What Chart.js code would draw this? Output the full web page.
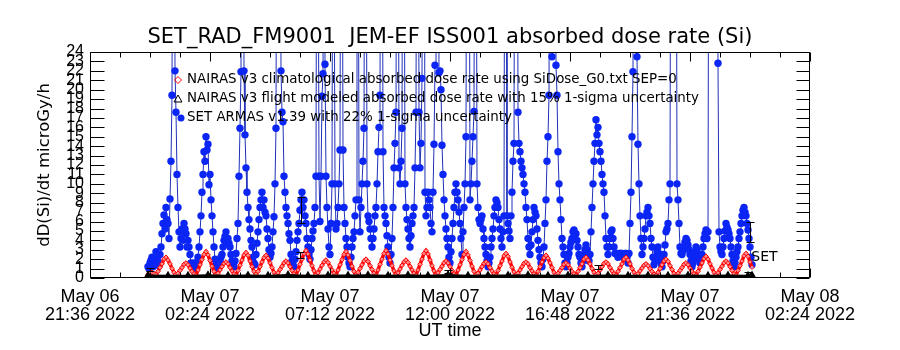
<!DOCTYPE html>
<html><head><meta charset="utf-8">
<script src="https://cdn.jsdelivr.net/npm/chart.js@4.4.1/dist/chart.umd.min.js"></script>
<style>html,body{margin:0;padding:0;background:#fff;}canvas{display:block;}</style>
</head><body>
<canvas id="c" width="900" height="350"></canvas>
<script>
// ---------- texts ----------
const titleText = 'SET_RAD_FM9001  JEM-EF ISS001 absorbed dose rate (Si)';
const yAxisTitle = 'dD(Si)/dt microGy/h';
const xAxisTitle = 'UT time';
const legendLabels = [
  'NAIRAS v3 climatological absorbed dose rate using SiDose_G0.txt SEP=0',
  'NAIRAS v3 flight modeled absorbed dose rate with 15% 1-sigma uncertainty',
  'SET ARMAS v1.39 with 22% 1-sigma uncertainty'
];
const setLabel = 'SET';
const setLabelHour = 26.45, setLabelValue = 2.2;

// ---------- axes (x in hours after May 06 21:36 UT) ----------
const xTickHours = [0, 4.8, 9.6, 14.4, 19.2, 24, 28.8];
const xTickLabels = [
  ['May 06', '21:36 2022'], ['May 07', '02:24 2022'], ['May 07', '07:12 2022'],
  ['May 07', '12:00 2022'], ['May 07', '16:48 2022'], ['May 07', '21:36 2022'],
  ['May 08', '02:24 2022']
];
const xMinorTickHours = [0,1.2,2.4,3.6,4.8,6,7.2,8.4,9.6,10.8,12,13.2,14.4,15.6,16.8,18,19.2,20.4,21.6,22.8,24,25.2,26.4,27.6,28.8];
const yTickValues = [0,1,2,3,4,5,6,7,8,9,10,11,12,13,14,15,16,17,18,19,20,21,22,23,24];
const yTickLabels = ['0','1','2','3','4','5','6','7','8','9','10','11','12','13','14','15','16','17','18','19','20','21','22','23','24'];

// ---------- SET ARMAS (one value every armasStepHour from armasStartHour) ----------
const armasStartHour = 2.32;
const armasStepHour = 0.04;
const setArmasDose = [
  1.2,1.0,1.6,1.9,2.2,1.2,1.4,2.0,2.8,1.5,1.8,1.3,2.5,3.3,4.7,5.8,6.7,5.2,7.5,6.2,
  5.8,4.2,8.4,12.4,19.4,60,60,22.0,17.6,11.0,7.5,4.9,3.3,4.2,5.2,4.0,5.8,5.2,4.7,3.3,
  4.0,3.3,2.5,1.6,1.2,1.0,1.6,1.3,1.0,1.5,2.2,3.3,4.9,6.6,9.1,11.0,13.4,12.4,15.0,13.6,
  14.2,9.9,11.0,8.3,6.6,4.9,3.3,2.0,1.4,1.2,1.0,1.4,1.8,2.2,2.5,3.3,4.0,4.4,4.9,3.6,
  4.2,3.7,3.3,2.5,1.8,1.4,1.2,1.8,2.6,4.2,5.8,10.8,15.9,21.9,60,60,22.0,15.2,11.7,9.1,
  7.5,6.2,5.2,4.0,3.3,2.2,1.6,1.4,2.5,3.7,4.9,6.2,7.5,8.3,9.1,7.5,8.3,7.0,6.6,5.2,
  4.2,3.0,2.2,2.6,3.3,4.9,6.5,10.0,15.9,60,45,60,50,22.0,17.6,16.6,10.8,9.1,7.5,6.6,
  5.8,4.7,4.0,2.5,1.8,1.4,1.2,2.0,2.8,4.0,4.9,5.8,7.2,8.3,9.1,7.5,8.3,6.6,5.8,4.2,
  3.3,2.5,2.0,3.0,4.2,5.0,5.8,7.5,10.8,60,45,10.8,6.0,10.8,19.3,21.7,55,22.7,10.8,7.5,
  5.2,3.3,2.5,5.8,10.0,60,40,10.0,5.2,5.8,7.5,10.0,13.6,60,50,13.6,7.5,5.8,4.2,3.3,
  2.2,1.6,1.2,2.2,3.3,4.2,4.9,6.6,8.3,60,60,8.3,4.9,7.5,10.0,12.4,15.9,60,55,10.0,
  6.6,6.0,5.2,4.2,3.3,4.2,5.2,6.6,7.5,10.0,13.4,16.0,19.4,60,60,13.4,7.5,6.6,5.8,4.5,
  3.3,2.2,1.6,2.5,4.2,7.5,11.7,14.3,17.6,60,60,11.7,10.0,12.4,15.9,60,50,10.0,7.5,6.2,
  5.2,4.2,3.3,4.5,5.8,6.6,7.5,11.7,17.6,60,60,17.6,11.7,14.3,21.2,60,60,9.1,6.6,7.5,
  9.1,8.3,7.5,5.8,4.9,9.1,14.2,22.6,60,60,60,21.8,22.0,20.0,14.1,11.0,8.3,6.6,5.2,4.2,
  3.3,2.2,1.6,2.8,4.2,5.8,7.5,9.1,10.0,9.1,8.3,7.0,5.8,4.2,2.5,4.9,7.5,10.0,15.0,60,
  55,60,8.3,10.0,12.4,15.0,17.7,60,60,10.0,7.5,6.2,5.8,6.2,6.6,5.2,4.2,3.3,2.5,1.8,
  1.2,1.6,2.2,3.3,4.2,5.2,6.6,7.5,8.3,8.0,7.5,6.2,5.2,4.2,3.3,4.9,6.6,60,60,6.6,
  5.8,5.0,4.2,6.6,9.1,12.4,14.3,60,60,60,17.6,14.3,13.4,12.4,11.7,11.0,10.0,9.1,7.5,6.2,
  4.2,3.3,2.5,3.5,4.9,6.2,7.5,7.0,6.6,5.2,4.0,3.0,2.2,1.6,1.2,2.0,3.3,5.8,8.3,12.4,
  15.0,19.4,60,60,23.5,60,55,60,22.6,19.4,13.4,10.0,8.3,6.2,4.2,3.3,2.5,1.6,1.2,1.6,
  2.2,2.6,3.3,3.8,4.2,4.9,5.1,4.2,4.7,4.0,3.3,2.5,2.2,1.6,1.2,1.8,2.5,3.0,3.5,3.0,
  2.5,1.8,2.5,4.9,7.5,10.0,12.4,14.3,16.8,15.2,16.0,14.3,13.4,12.4,11.0,10.0,9.1,6.6,4.2,3.3,
  2.5,3.3,4.2,4.9,5.1,4.2,3.3,2.6,2.6,2.6,2.2,2.6,2.6,2.6,2.6,2.2,2.2,2.6,2.6,2.2,
  1.6,2.6,5.8,9.1,15.0,21.9,60,60,60,23.5,14.2,10.0,6.6,4.2,2.5,3.3,4.2,5.2,6.6,7.0,
  7.5,6.6,5.8,4.2,3.3,2.2,1.4,1.8,2.2,2.8,3.3,2.6,2.2,1.6,1.2,1.8,2.5,3.5,4.9,5.2,
  5.8,8.3,10.0,60,60,60,60,60,60,10.0,8.3,5.8,3.3,2.6,2.5,2.9,3.3,3.8,4.2,4.0,
  3.5,3.0,2.5,1.8,1.2,1.6,2.2,2.8,3.3,3.0,2.5,2.0,1.6,2.0,2.5,3.3,4.2,4.7,5.1,4.2,
  4.9,60,60,60,60,60,60,60,60,60,22.8,4.9,3.3,2.8,2.5,3.3,4.2,5.0,5.8,5.4,
  5.1,4.7,4.2,3.3,2.5,1.8,1.2,1.6,2.2,2.8,3.3,4.2,4.9,5.8,6.6,7.2,7.5,7.0,6.6,5.8,
  5.1,4.2,3.3,2.2,1.4
];

// ---------- NAIRAS climatological (one value every climStepHour from climStartHour) ----------
const climStartHour = 2.32;
const climStepHour = 0.08;
const nairasClimDose = [
  0.4,0.5,0.6,0.45,0.35,
  0.7,1.1,1.5,2.0,2.2,1.9,1.5,1.0,0.6,0.35,
  0.5,0.8,1.1,1.45,1.6,1.4,1.05,0.7,0.45,0.3,
  0.85,1.4,1.95,2.5,2.8,2.45,1.85,1.25,0.7,0.35,
  0.5,0.85,1.2,1.55,1.7,1.5,1.1,0.75,0.45,0.3,
  0.8,1.35,1.9,2.45,2.7,2.4,1.8,1.2,0.7,0.4,
  0.7,1.2,1.7,2.15,2.4,2.1,1.6,1.1,0.6,0.35,
  0.55,0.9,1.25,1.6,1.8,1.6,1.2,0.8,0.45,0.3,
  0.85,1.45,2.0,2.6,2.9,2.55,1.9,1.3,0.75,0.35,
  0.55,0.95,1.35,1.7,1.9,1.65,1.25,0.85,0.5,0.3,
  0.85,1.4,1.95,2.5,2.8,2.45,1.85,1.25,0.7,0.35,
  0.6,1.0,1.4,1.8,2.0,1.75,1.3,0.9,0.5,0.3,
  0.85,1.45,2.0,2.6,2.9,2.55,1.9,1.3,0.75,0.4,
  0.55,0.95,1.35,1.7,1.9,1.65,1.25,0.85,0.5,0.3,
  0.85,1.45,2.0,2.6,2.9,2.55,1.9,1.3,0.75,0.35,
  0.55,0.9,1.25,1.6,1.8,1.6,1.2,0.8,0.45,0.3,
  0.85,1.4,1.95,2.5,2.8,2.45,1.85,1.25,0.7,0.35,
  0.5,0.85,1.2,1.55,1.7,1.5,1.1,0.75,0.45,0.3,
  0.8,1.3,1.8,2.35,2.6,2.3,1.7,1.15,0.65,0.35,
  0.5,0.85,1.2,1.55,1.7,1.5,1.1,0.75,0.45,0.3,
  0.7,1.2,1.7,2.15,2.4,2.1,1.6,1.1,0.6,0.35,
  0.5,0.8,1.1,1.45,1.6,1.4,1.05,0.7,0.45,0.3,
  0.7,1.1,1.5,2.0,2.2,1.9,1.5,1.0,0.6,0.35,
  0.5,0.85,1.2,1.55,1.7,1.5,1.1,0.75,0.45,0.3,
  0.7,1.1,1.5,2.0,2.2,1.9,1.5,1.0,0.6,0.35,
  0.45,0.75,1.05,1.35,1.5,1.3,1.0,0.7,0.4,0.3,
  0.6,1.0,1.4,1.8,2.0,1.75,1.3,0.9,0.5,0.3,
  0.5,0.8,1.1,1.45,1.6,1.4,1.05,0.7,0.45,0.3,
  0.7,1.15,1.6,2.05,2.3,2.0,1.5,1.05,0.6,0.35,
  0.55,0.9,1.25,1.6,1.8,1.6,1.2,0.8,0.45,0.3,
  0.8,1.3,1.8,2.35,2.6,2.3,1.7,1.15
];

// ---------- NAIRAS flight modeled (coarser sampling) ----------
const flightStartHour = 2.32;
const flightStepHour = 0.8;
const nairasFlightDose = [0.15,0.12,0.14,0.18,0.12,0.16,0.14,0.2,0.13,0.17,0.15,0.19,0.12,0.18,0.14,0.2,0.13,0.17,0.15,0.18,0.12,0.16,0.14,0.17,0.12,0.15,0.13,0.17,0.12,0.16,0.14,0.15];

// ---------- error bars: hour, low, high ----------
const errBarHour = [2.4, 8.4, 14.32, 20.32, 26.32, 8.44, 26.4];
const errBarLow  = [0.75, 2.1, 0.5, 1.0, 0.35, 5.8, 3.8];
const errBarHigh = [1.05, 2.8, 0.8, 1.4, 0.6, 8.6, 5.9];

// ---------- build ----------
const armasPts = setArmasDose.map((v, i) => ({x: armasStartHour + i * armasStepHour, y: v}));
const climPts = nairasClimDose.map((v, i) => ({x: climStartHour + i * climStepHour, y: v}));
const flightPts = nairasFlightDose.map((v, i) => ({x: Math.min(flightStartHour + i * flightStepHour, 26.48), y: v}));

const NARROW = '"Liberation Sans", Arial, sans-serif';
const PLAIN = '"DejaVu Sans", sans-serif';

const overlayPlugin = {
  id: 'overlay',
  afterDatasetsDraw(chart) {
    const {ctx, chartArea: a, scales: {x, y}} = chart;
    ctx.save();
    ctx.strokeStyle = '#000'; ctx.lineWidth = 1;
    for (let i = 0; i < errBarHour.length; i++) {
      const px = Math.round(x.getPixelForValue(errBarHour[i])) + 0.5;
      const lo = Math.round(y.getPixelForValue(errBarLow[i])) + 0.5;
      const hi = Math.round(y.getPixelForValue(errBarHigh[i])) + 0.5;
      ctx.beginPath();
      ctx.moveTo(px, lo); ctx.lineTo(px, hi);
      ctx.moveTo(px - 4, lo); ctx.lineTo(px + 4, lo);
      ctx.moveTo(px - 4, hi); ctx.lineTo(px + 4, hi);
      ctx.stroke();
    }
    const L = Math.round(a.left) + 0.5, R = Math.round(a.right) - 0.5;
    const T = Math.round(a.top) + 0.5, B = Math.round(a.bottom) - 0.5;
    ctx.beginPath();
    ctx.rect(L, T, R - L, B - T);
    yTickValues.forEach(v => {
      const py = Math.round(y.getPixelForValue(v)) + 0.5;
      ctx.moveTo(L, py); ctx.lineTo(L + 14, py);
      ctx.moveTo(R, py); ctx.lineTo(R - 13, py);
    });
    xMinorTickHours.forEach(h => {
      const px = Math.round(x.getPixelForValue(h)) + 0.5;
      const major = xTickHours.some(t => Math.abs(t - h) < 1e-6);
      const len = major ? 9 : 5;
      ctx.moveTo(px, T); ctx.lineTo(px, T + len);
      ctx.moveTo(px, B); ctx.lineTo(px, B - len);
    });
    ctx.stroke();
    ctx.fillStyle = '#000';
    ctx.font = '14px ' + PLAIN;
    ctx.textBaseline = 'middle'; ctx.textAlign = 'left';
    ctx.fillText(setLabel, x.getPixelForValue(setLabelHour), y.getPixelForValue(setLabelValue));
    const symX = a.left + 88, txtX = a.left + 97;
    const rows = [a.top + 28, a.top + 47, a.top + 66];
    ctx.font = '13.4px ' + PLAIN;
    legendLabels.forEach((t, i) => ctx.fillText(t, txtX, rows[i]));
    ctx.strokeStyle = '#ff0000'; ctx.lineWidth = 1;
    ctx.beginPath();
    ctx.moveTo(symX, rows[0] - 3.5); ctx.lineTo(symX + 3.5, rows[0]);
    ctx.lineTo(symX, rows[0] + 3.5); ctx.lineTo(symX - 3.5, rows[0]); ctx.closePath();
    ctx.stroke();
    ctx.strokeStyle = '#000';
    ctx.beginPath();
    ctx.moveTo(symX, rows[1] - 4); ctx.lineTo(symX + 4, rows[1] + 3);
    ctx.lineTo(symX - 4, rows[1] + 3); ctx.closePath();
    ctx.stroke();
    ctx.fillStyle = '#0b25f5';
    ctx.beginPath(); ctx.arc(symX + 3, rows[2], 3.5, 0, Math.PI * 2); ctx.fill();
    ctx.restore();
  }
};

new Chart(document.getElementById('c'), {
  type: 'line',
  data: {
    datasets: [
      {label: legendLabels[1], data: flightPts, order: 0, borderColor: '#000', borderWidth: 4,
       pointStyle: 'triangle', pointRadius: 2, pointBackgroundColor: '#000', pointBorderColor: '#000', clip: 0},
      {label: legendLabels[0], data: climPts, order: 1, borderColor: '#ff0000', borderWidth: 3.5,
       pointStyle: 'rectRot', pointRadius: 2.3, pointBorderColor: '#ff0000', pointBackgroundColor: 'rgba(255,255,255,0.55)',
       pointBorderWidth: 1, clip: 0},
      {label: legendLabels[2], data: armasPts, order: 2, borderColor: '#1f30b8', borderWidth: 1,
       pointStyle: 'circle', pointRadius: 3.7, pointBackgroundColor: '#0b25f5', pointBorderColor: '#0b25f5',
       pointBorderWidth: 0, clip: 0}
    ]
  },
  options: {
    responsive: false, animation: false, devicePixelRatio: 1,
    layout: {padding: 0},
    plugins: {
      legend: {display: false}, tooltip: {enabled: false},
      title: {display: true, text: titleText, color: '#000',
              font: {family: PLAIN, size: 21, weight: 'normal', lineHeight: 1.2},
              padding: {top: 25, bottom: 1.8}}
    },
    scales: {
      x: {
        type: 'linear', position: 'bottom', min: 0, max: 28.8,
        afterBuildTicks: s => { s.ticks = xTickHours.map(v => ({value: v})); },
        afterFit: s => { s.height = 72; },
        ticks: {autoSkip: false, maxRotation: 0, minRotation: 0, padding: 10, color: '#000',
                font: {family: NARROW, size: 18, lineHeight: 1.0},
                callback: (v, i) => xTickLabels[i]},
        grid: {display: false, drawTicks: false},
        border: {display: false},
        title: {display: true, text: xAxisTitle, color: '#000',
                font: {family: NARROW, size: 18, lineHeight: 1.0}, padding: {top: 2, bottom: 10}}
      },
      y: {
        type: 'linear', position: 'left', min: 0, max: 24,
        afterBuildTicks: s => { s.ticks = yTickValues.map(v => ({value: v})); },
        afterFit: s => { s.width = 90; },
        ticks: {autoSkip: false, padding: 6, color: '#000',
                font: {family: NARROW, size: 16, lineHeight: 1.0},
                callback: (v, i) => yTickLabels[i]},
        grid: {display: false, drawTicks: false},
        border: {display: false},
        title: {display: true, text: yAxisTitle, color: '#000',
                font: {family: PLAIN, size: 16.5, lineHeight: 1.2}, padding: {top: 35, bottom: 0}}
      },
      y2: {
        type: 'linear', position: 'right', min: 0, max: 24, display: true,
        afterFit: s => { s.width = 90; },
        ticks: {display: false},
        grid: {display: false, drawTicks: false},
        border: {display: false}
      }
    }
  },
  plugins: [overlayPlugin]
});
</script>
</body></html>
